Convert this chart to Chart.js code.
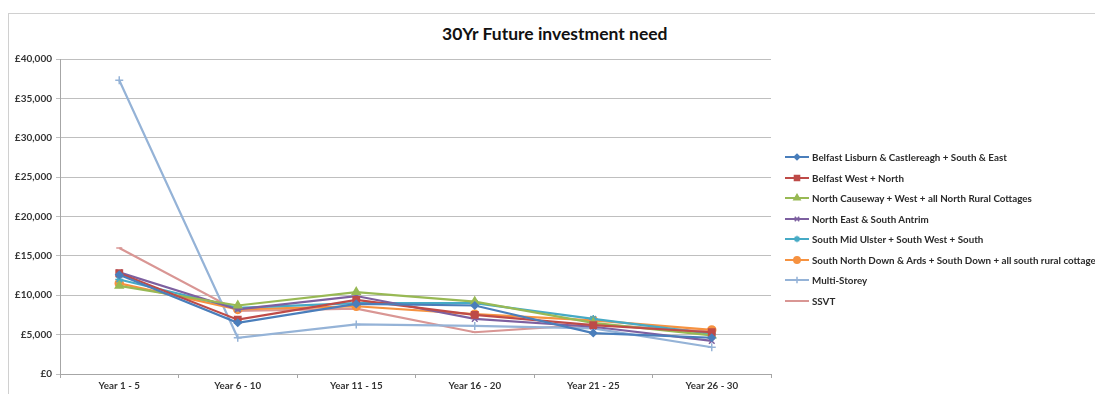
<!DOCTYPE html>
<html>
<head>
<meta charset="utf-8">
<script src="https://cdn.jsdelivr.net/npm/chart.js@4"></script>
<style>
  body { margin: 0; background: #fff; font-family: Lato, "Open Sans", sans-serif; }
  #wrap { position: relative; width: 1095px; height: 394px; overflow: hidden; }
  #frame { position: absolute; left: 8px; top: 13px; width: 1200px; height: 500px; border: 1.5px solid #d0d0d0; box-sizing: border-box; }
  #title { position: absolute; left: 442px; top: 23px; font: bold 17.5px Lato, sans-serif; color: #111; white-space: nowrap; }
  #chart { position: absolute; left: 0; top: 0; }
  #legend { position: absolute; left: 785px; top: 147px; }
  .item { height: 20.5px; display: flex; align-items: center; white-space: nowrap; font: bold 9.8px Lato, sans-serif; color: #2a2a2a; }
  .item canvas { margin-right: 3px; }
</style>
</head>
<body>
<div id="wrap">
  <div id="frame"></div>
  <div id="title">30Yr Future investment need</div>
  <canvas id="chart" width="1095" height="394"></canvas>
  <div id="legend"></div>
</div>
<script>
// Categories and tick labels
const categories = ['Year 1 - 5', 'Year 6 - 10', 'Year 11 - 15', 'Year 16 - 20', 'Year 21 - 25', 'Year 26 - 30'];
const yTicks = [0, 5000, 10000, 15000, 20000, 25000, 30000, 35000, 40000];

// Series values
const belfastLisburn   = [12600, 6500, 8900, 8700, 5200, 4600];
const belfastWest      = [12800, 6900, 9400, 7500, 6200, 5300];
const northCauseway    = [11200, 8700, 10400, 9200, 6500, 4900];
const northEast        = [12900, 8200, 9900, 7000, 6000, 4200];
const southMidUlster   = [12000, 8400, 9000, 9000, 7000, 5100];
const southNorthDown   = [11500, 8200, 8600, 7600, 6800, 5600];
const multiStorey      = [37300, 4600, 6300, 6100, 5800, 3400];
const ssvt             = [16000, 8000, 8300, 5300, 6300, 5400];

const series = [
  { label: 'Belfast Lisburn & Castlereagh + South & East', data: belfastLisburn, color: '#4a7ebb', style: 'rectRot', r: 3.5 },
  { label: 'Belfast West + North', data: belfastWest, color: '#be4b48', style: 'rect', r: 4.5 },
  { label: 'North Causeway + West + all North Rural Cottages', data: northCauseway, color: '#98b954', style: 'triangle', r: 4.5 },
  { label: 'North East & South Antrim', data: northEast, color: '#7d60a0', style: 'crossRot', r: 4 },
  { label: 'South Mid Ulster + South West + South', data: southMidUlster, color: '#46aac5', style: 'star', r: 4 },
  { label: 'South North Down & Ards + South Down + all south rural cottages', data: southNorthDown, color: '#f69240', style: 'circle', r: 4 },
  { label: 'Multi-Storey', data: multiStorey, color: '#95b3d7', style: 'cross', r: 4 },
  { label: 'SSVT', data: ssvt, color: '#d99694', style: 'line', r: 3 }
];

const datasets = series.map(s => ({
  label: s.label,
  data: s.data,
  borderColor: s.color,
  backgroundColor: s.color,
  borderWidth: 2.2,
  pointStyle: s.style,
  pointRadius: s.r,
  pointBorderWidth: 1.5,
  tension: 0
}));

new Chart(document.getElementById('chart'), {
  type: 'line',
  data: { labels: categories, datasets: datasets },
  options: {
    responsive: false,
    animation: false,
    layout: { padding: { top: 59, right: 324, bottom: 0, left: 0 } },
    plugins: { legend: { display: false }, tooltip: { enabled: false } },
    scales: {
      x: {
        offset: true,
        afterFit: (s) => { s.height = 20; },
        grid: { offset: true, drawOnChartArea: false, drawTicks: true, tickLength: 4, color: '#a6a6a6' },
        border: { color: '#a6a6a6' },
        ticks: { color: '#333', font: { family: 'Lato', size: 9.8, weight: 'bold' }, padding: 2, maxRotation: 0 }
      },
      y: {
        min: 0,
        max: 40000,
        afterFit: (s) => { s.width = 60; },
        afterBuildTicks: (s) => { s.ticks = yTicks.map(v => ({ value: v })); },
        grid: { color: '#bfbfbf', tickLength: 4 },
        border: { color: '#a6a6a6' },
        ticks: {
          color: '#333',
          padding: 4,
          font: { family: 'Lato', size: 10, weight: 'bold' },
          callback: (v) => '£' + v.toLocaleString('en-GB')
        }
      }
    }
  }
});

// Legend built from the same series
const legend = document.getElementById('legend');
series.forEach(s => {
  const item = document.createElement('div');
  item.className = 'item';
  const c = document.createElement('canvas');
  c.width = 24; c.height = 12;
  const ctx = c.getContext('2d');
  ctx.strokeStyle = s.color;
  ctx.lineWidth = 2;
  ctx.beginPath(); ctx.moveTo(0, 6); ctx.lineTo(24, 6); ctx.stroke();
  if (Chart.helpers && Chart.helpers.drawPoint && s.style !== 'line') {
    ctx.fillStyle = s.color;
    ctx.lineWidth = 1.5;
    Chart.helpers.drawPoint(ctx, { pointStyle: s.style, radius: s.r * 0.8, rotation: 0, borderWidth: 1.5 }, 12, 6);
  }
  item.appendChild(c);
  const t = document.createElement('span');
  t.textContent = s.label;
  item.appendChild(t);
  legend.appendChild(item);
});
</script>
</body>
</html>
